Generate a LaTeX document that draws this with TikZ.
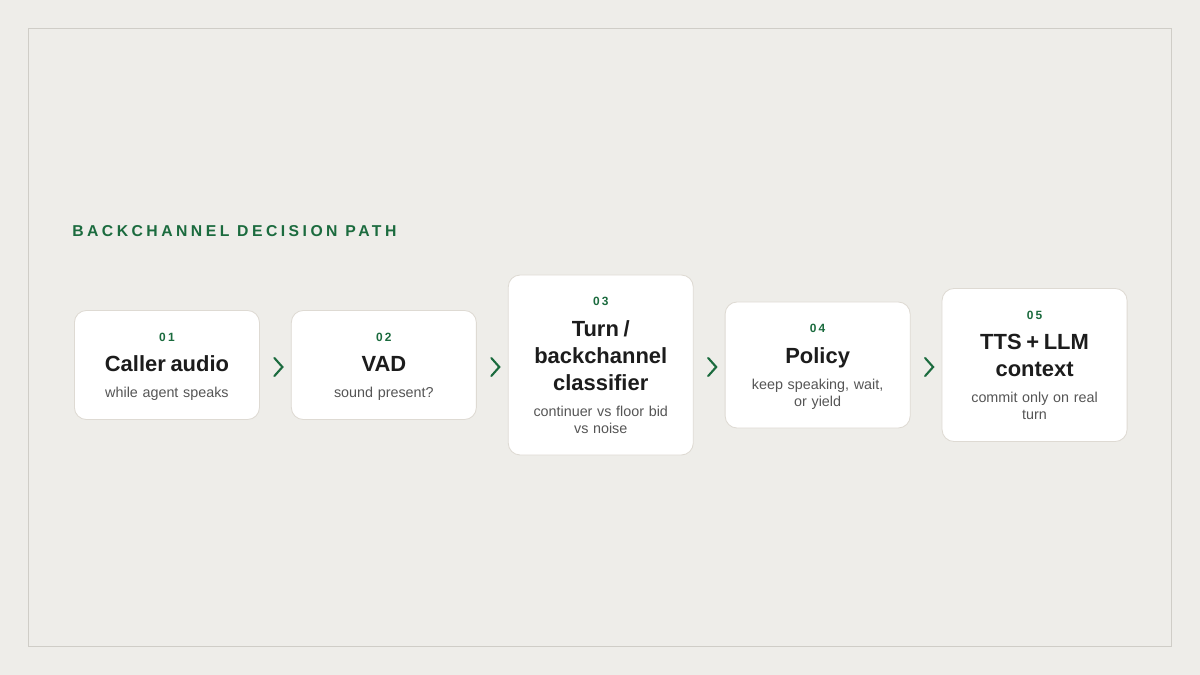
\documentclass[tikz,border=0pt]{standalone}
\usepackage{fontspec}
\setmainfont{Liberation Sans}
\newfontfamily\spacedfont[LetterSpace=22]{Liberation Sans}
\newfontfamily\numfont[LetterSpace=18]{Liberation Sans}
\usetikzlibrary{positioning,calc}

\definecolor{paper}{HTML}{EEEDE9}
\definecolor{framegray}{HTML}{CFCDC7}
\definecolor{cardline}{HTML}{DEDAD3}
\definecolor{accent}{HTML}{1B6B3E}
\definecolor{ink}{HTML}{1C1C1C}
\definecolor{muted}{HTML}{555555}

\newcommand{\cardno}{\numfont\bfseries\fontsize{8.5}{10}\selectfont\color{accent}\rule{0pt}{8.2pt}}
\newcommand{\cardtitle}{\vspace{2.5pt}\bfseries\fontsize{15.6}{19.2}\selectfont\color{ink}}
\newcommand{\cardsub}{\vspace{6.4pt}\fontsize{10.2}{12.1}\selectfont\color{muted}}
\newcommand{\lastdepth}{\rule[-2.1pt]{0pt}{2.1pt}}

\tikzset{
  card/.style={draw=cardline, fill=white, rounded corners=0.3cm, line width=0.6pt,
    minimum width=4.625cm, text width=4.125cm, inner xsep=0.25cm, inner ysep=0.475cm,
    align=center},
  chevron/.style={draw=accent, line width=1.5pt, line cap=round, line join=miter}
}

\begin{document}
\begin{tikzpicture}[x=0.025cm, y=-0.025cm, node distance=0.775cm]
	\useasboundingbox (0,0) rectangle (1200,675);
	\fill[paper] (0,0) rectangle (1200,675);
	\draw[framegray, line width=0.7pt] (28.5,28.5) rectangle (1171.5,646.5);

	\node[anchor=west, inner sep=0pt, text=accent] (heading) at (72,231)
		{\spacedfont\bfseries\fontsize{11.2}{13}\selectfont BACKCHANNEL DECISION PATH};

	\node[card, anchor=west] (caller) at (74,365)
		{{\cardno 01\par}{\cardtitle Caller audio\par}{\cardsub while agent speaks\lastdepth\par}};
	\node[card, right=of caller] (vad)
		{{\cardno 02\par}{\cardtitle VAD\par}{\cardsub sound present?\lastdepth\par}};
	\node[card, right=of vad] (classifier)
		{{\cardno 03\par}{\cardtitle Turn /\\ backchannel\\ classifier\par}{\cardsub continuer vs floor bid\\ vs noise\lastdepth\par}};
	\node[card, right=of classifier] (policy)
		{{\cardno 04\par}{\cardtitle Policy\par}{\cardsub keep speaking, wait,\\ or yield\lastdepth\par}};
	\node[card, right=of policy] (context)
		{{\cardno 05\par}{\cardtitle TTS + LLM\\ context\par}{\cardsub commit only on real\\ turn\lastdepth\par}};

	% chevrons between the steps
	\foreach \a/\b in {caller/vad, vad/classifier, classifier/policy, policy/context}{
		\coordinate (m) at ($(\a.east)!0.5!(\b.west)+(3,2)$);
		\draw[chevron] ($(m)+(-4,-9)$) -- ($(m)+(4,0)$) -- ($(m)+(-4,9)$);
	}
\end{tikzpicture}
\end{document}
